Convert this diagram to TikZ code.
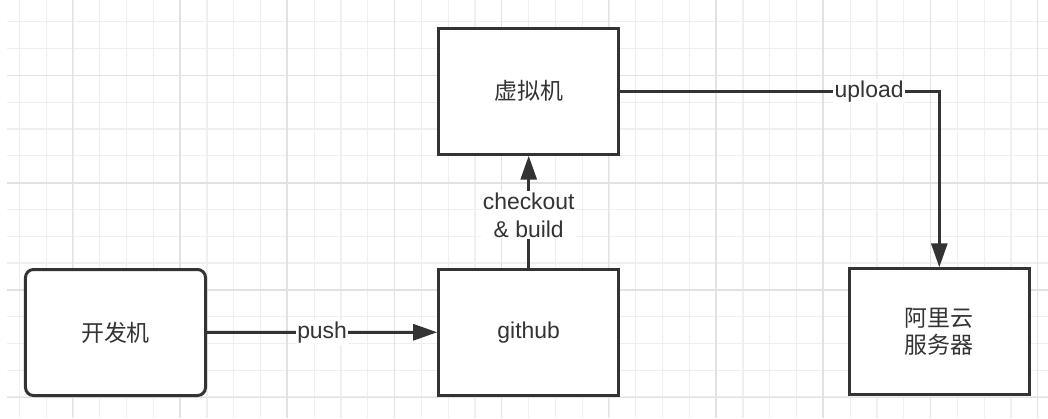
\documentclass[tikz,border=0pt]{standalone}
\usepackage{fontspec}
\setmainfont{Liberation Sans}
\newfontfamily\cjk{Noto Sans CJK SC}
\usetikzlibrary{arrows.meta, positioning}
\definecolor{gridminor}{HTML}{EFEFEF}
\definecolor{gridmajor}{HTML}{E2E2E2}
\definecolor{ink}{HTML}{333333}
\def\cell{26.8}

\begin{document}
\begin{tikzpicture}[x=1bp, y=-1bp, >={Triangle[length=24bp,width=16bp]}, draw=ink, text=ink,
    font=\fontsize{23}{28}\selectfont]
    \tikzstyle{minor line}=[draw=gridminor, line width=1.2bp]
    \tikzstyle{major line}=[draw=gridmajor, line width=1.4bp]
    \tikzstyle{box}=[rectangle, draw=ink, line width=3bp, fill=white, minimum width=180bp, minimum height=126bp, inner sep=0pt, align=center]
    \tikzstyle{dev box}=[box, rounded corners=8bp]
    \tikzstyle{flow}=[->, draw=ink, line width=3bp]
    \tikzstyle{annot}=[fill=white, inner sep=1.5bp, align=center]

    \useasboundingbox (0,0) rectangle (1048,418);

    % Background grid
    \foreach \i in {0,...,38}
        \draw[minor line] ({19.3+\cell*\i},0) -- ({19.3+\cell*\i},418);
    \foreach \j in {0,...,14}
        \draw[minor line] (7,{21.7+\cell*\j}) -- (1048,{21.7+\cell*\j});
    \foreach \i in {0,...,9}
        \draw[major line] ({72.7+4*\cell*\i},0) -- ({72.7+4*\cell*\i},418);
    \foreach \j in {0,...,3}
        \draw[major line] (7,{75.7+4*\cell*\j}) -- (1048,{75.7+4*\cell*\j});

    % Machines
    \node[dev box] (dev) at (115.5,332.5) {\cjk 开发机};
    \node[box] (github) at (528.7,332.2) {github};
    \node[box] (vm) at (528.7,91.2) {\cjk 虚拟机};
    \node[box] (aliyun) at (939.3,331.8) {\cjk 阿里云\\\cjk 服务器};

    % Flow between them
    \draw[flow] (dev) -- node[annot] {push} (github);
    \draw[flow] (github) -- node[annot, pos=0.47] {checkout\\\& build} (vm);
    \draw[flow] (vm) -| node[annot, pos=0.39] {upload} (aliyun);
\end{tikzpicture}
\end{document}
